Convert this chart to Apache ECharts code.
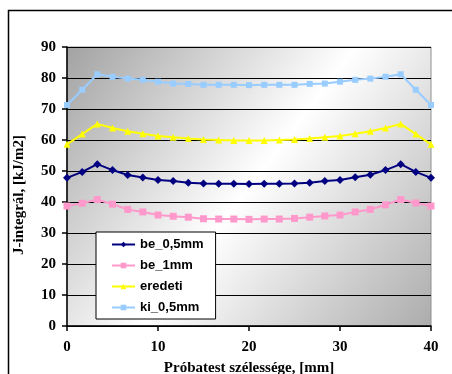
<!DOCTYPE html>
<html>
<head>
<meta charset="utf-8">
<script src="https://cdn.jsdelivr.net/npm/echarts@6/dist/echarts.min.js"></script>
<style>
html, body { margin: 0; padding: 0; background: #fff; }
#chart { width: 452px; height: 374px; }
</style>
</head>
<body>
<div id="chart"></div>
<script>
// Measurement positions across the specimen width [mm]
const widthPositions = [0, 1.67, 3.33, 5, 6.67, 8.33, 10, 11.67, 13.33, 15, 16.67, 18.33, 20,
  21.67, 23.33, 25, 26.67, 28.33, 30, 31.67, 33.33, 35, 36.67, 38.33, 40];

// J-integral values [kJ/m2]
const be05 = [47.8, 49.7, 52.2, 50.3, 48.7, 47.9, 47.1, 46.8, 46.2, 46.0, 45.9, 45.9, 45.8,
  45.9, 45.9, 46.0, 46.2, 46.8, 47.1, 48.0, 48.8, 50.3, 52.2, 49.7, 47.8];
const be1 = [38.7, 39.6, 40.8, 39.3, 37.6, 36.8, 35.8, 35.4, 35.1, 34.6, 34.5, 34.5, 34.4,
  34.5, 34.5, 34.7, 35.1, 35.5, 35.8, 36.8, 37.6, 39.1, 40.8, 39.7, 38.7];
const eredeti = [58.6, 61.9, 65.2, 63.9, 62.8, 62.0, 61.3, 60.9, 60.5, 60.2, 60.0, 59.8, 59.8,
  59.8, 60.0, 60.2, 60.5, 60.9, 61.3, 62.0, 62.8, 63.9, 65.2, 61.9, 58.6];
const ki05 = [71.3, 76.2, 81.2, 80.4, 79.8, 79.4, 78.8, 78.2, 78.1, 77.8, 77.8, 77.8, 77.7,
  77.8, 77.8, 77.8, 78.1, 78.2, 78.8, 79.4, 79.8, 80.4, 81.2, 76.2, 71.3];

const seriesNames = ['be_0,5mm', 'be_1mm', 'eredeti', 'ki_0,5mm'];
const yTicks = [0, 10, 20, 30, 40, 50, 60, 70, 80, 90];
const xTicks = [0, 10, 20, 30, 40];

const pair = (ys) => widthPositions.map((x, i) => [x, ys[i]]);

const serif = '"Liberation Serif", "Times New Roman", serif';
const sans = '"Liberation Sans", Arial, sans-serif';

const chart = echarts.init(document.getElementById('chart'), null, { renderer: 'canvas' });

function lineSeries(name, data, color, symbol, size) {
  return {
    name: name,
    type: 'line',
    data: pair(data),
    symbol: symbol,
    symbolSize: size,
    showAllSymbol: true,
    lineStyle: { color: color, width: 2 },
    itemStyle: { color: color, borderWidth: 0 },
    emphasis: { disabled: true },
    animation: false,
    z: 5
  };
}

chart.setOption({
  animation: false,
  backgroundColor: '#fff',
  graphic: [
    {
      type: 'rect',
      shape: { x: 8.5, y: 10.5, width: 460, height: 400 },
      style: { fill: 'none', stroke: '#000', lineWidth: 1.5 },
      silent: true,
      z: 0
    },
    {
      type: 'text',
      x: 19,
      y: 195,
      rotation: Math.PI / 2,
      style: {
        text: 'J-integrál, [kJ/m2]',
        font: 'bold 15px ' + serif,
        fill: '#000',
        align: 'center',
        verticalAlign: 'middle'
      },
      silent: true
    },
    {
      type: 'text',
      x: 249,
      y: 368,
      style: {
        text: 'Próbatest szélessége, [mm]',
        font: 'bold 15px ' + serif,
        fill: '#000',
        align: 'center',
        verticalAlign: 'middle'
      },
      silent: true
    }
  ],
  grid: {
    left: 67,
    right: 21,
    top: 47,
    bottom: 48,
    show: true,
    borderColor: '#909090',
    borderWidth: 1,
    backgroundColor: {
      type: 'linear',
      x: 0, y: 0, x2: 1, y2: 1,
      colorStops: [
        { offset: 0, color: '#a2a2a2' },
        { offset: 0.5, color: '#ffffff' },
        { offset: 1, color: '#acacac' }
      ]
    }
  },
  legend: {
    data: seriesNames,
    orient: 'vertical',
    left: 96,
    top: 232,
    width: 121,
    padding: [6, 12, 5, 15],
    itemWidth: 23,
    itemHeight: 7,
    itemGap: 8,
    backgroundColor: '#fff',
    borderColor: '#000',
    borderWidth: 1,
    borderRadius: 0,
    textStyle: { fontFamily: sans, fontWeight: 'bold', fontSize: 13, color: '#000', lineHeight: 13 },
    selectedMode: false
  },
  xAxis: {
    type: 'value',
    min: xTicks[0],
    max: xTicks[xTicks.length - 1],
    interval: 10,
    axisLine: { show: true, onZero: false, lineStyle: { color: '#000', width: 1.5 } },
    axisTick: { show: true, length: 5, lineStyle: { color: '#000', width: 1.5 } },
    splitLine: { show: false },
    axisLabel: {
      margin: 14,
      fontFamily: serif,
      fontWeight: 'bold',
      fontSize: 15,
      color: '#000'
    }
  },
  yAxis: {
    type: 'value',
    min: yTicks[0],
    max: yTicks[yTicks.length - 1],
    interval: 10,
    axisLine: { show: true, lineStyle: { color: '#000', width: 1.5 } },
    axisTick: { show: true, length: 5, lineStyle: { color: '#000', width: 1.5 } },
    splitLine: { show: true, lineStyle: { color: '#000', width: 1 } },
    axisLabel: {
      margin: 11,
      fontFamily: serif,
      fontWeight: 'bold',
      fontSize: 15,
      color: '#000'
    }
  },
  series: [
    lineSeries(seriesNames[0], be05, '#000080', 'diamond', 8),
    lineSeries(seriesNames[1], be1, '#ff99cc', 'rect', 7),
    lineSeries(seriesNames[2], eredeti, '#ffff00', 'triangle', 7),
    lineSeries(seriesNames[3], ki05, '#99ccff', 'rect', 6)
  ]
});
</script>
</body>
</html>
